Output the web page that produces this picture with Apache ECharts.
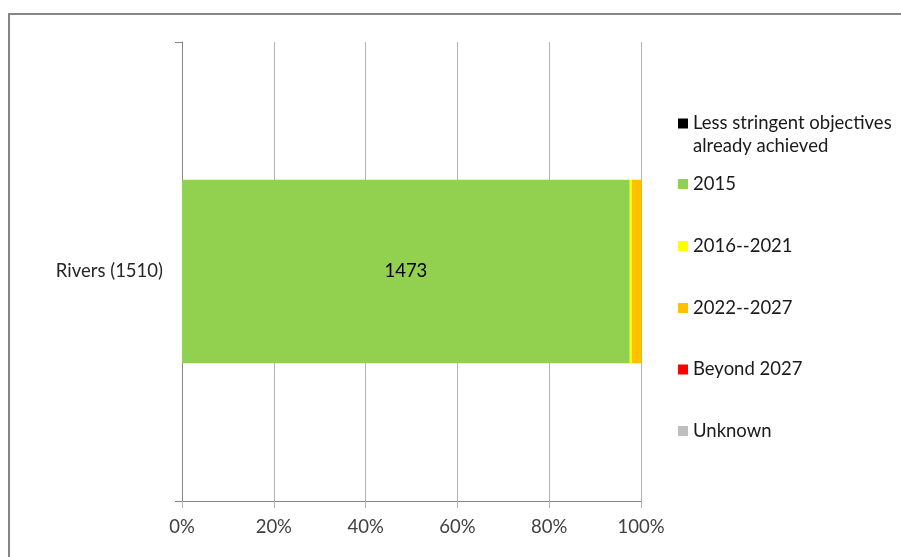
<!DOCTYPE html>
<html>
<head>
<meta charset="utf-8">
<script src="https://cdn.jsdelivr.net/npm/echarts@6/dist/echarts.min.js"></script>
<style>
  html, body { margin: 0; padding: 0; background: #fff; }
  #chart { width: 901px; height: 557px; }
</style>
</head>
<body>
<div id="chart"></div>
<script>
// Water bodies by year the objective is expected to be reached
const categories = ['Rivers (1510)'];
const totals = [1510];
const seriesNames = ['Less stringent objectives already achieved', '2015', '2016--2021', '2022--2027', 'Beyond 2027', 'Unknown'];
const lessStringent = [0];
const y2015 = [1473];
const y2016to2021 = [7];
const y2022to2027 = [30];
const beyond2027 = [0];
const unknown = [0];
const xTicks = [0, 20, 40, 60, 80, 100];

const counts = [lessStringent, y2015, y2016to2021, y2022to2027, beyond2027, unknown];
const colors = ['#000000', '#92D050', '#FFFF00', '#FFC000', '#FF0000', '#BFBFBF'];
const legendCenters = [123.5, 184, 246, 308, 369.5, 431];

const FONT = 'Lato';
const FS = 18.5;
const chart = echarts.init(document.getElementById('chart'), null, { renderer: 'canvas' });

const series = seriesNames.map((name, i) => ({
  name: name,
  type: 'bar',
  stack: 'total',
  barWidth: '40%',
  itemStyle: { color: colors[i] },
  data: counts[i].map((v, j) => v / totals[j] * 100),
  label: {
    show: i === 1,
    position: 'inside',
    color: '#000',
    fontFamily: FONT,
    fontSize: FS,
    formatter: p => String(counts[i][p.dataIndex])
  }
}));

const legends = seriesNames.map((name, i) => {
  const twoLine = i === 0;
  const lineH = twoLine ? 23 : 22;
  const blockH = twoLine ? lineH * 3 : lineH;
  return {
    data: [name],
    orient: 'vertical',
    left: 678,
    top: legendCenters[i] - blockH / 2,
    padding: 0,
    itemWidth: 10,
    itemHeight: 10,
    icon: 'rect',
    selectedMode: false,
    textStyle: { fontFamily: FONT, fontSize: FS, color: '#1a1a1a', lineHeight: lineH },
    formatter: twoLine ? ' \nLess stringent objectives\nalready achieved' : '{name}'
  };
});

chart.setOption({
  backgroundColor: '#fff',
  animation: false,
  graphic: [{
    type: 'rect',
    shape: { x: 9, y: 14, width: 1200, height: 1200 },
    style: { fill: null, stroke: '#868686', lineWidth: 2 },
    silent: true
  }],
  grid: { left: 182, right: 260, top: 42, bottom: 56, containLabel: false },
  legend: legends,
  xAxis: {
    type: 'value',
    min: xTicks[0],
    max: xTicks[xTicks.length - 1],
    interval: xTicks[1] - xTicks[0],
    axisLine: { show: true, lineStyle: { color: '#868686', width: 1 } },
    axisTick: { show: true, length: 7, lineStyle: { color: '#b3b3b3' } },
    splitLine: { show: true, lineStyle: { color: '#b3b3b3', width: 1 } },
    axisLabel: { formatter: '{value}%', margin: 17, color: '#404040', fontFamily: FONT, fontSize: FS }
  },
  yAxis: {
    type: 'category',
    data: categories,
    axisLine: { show: true, lineStyle: { color: '#868686', width: 1 } },
    axisTick: { show: true, length: 7, lineStyle: { color: '#868686' } },
    axisLabel: { margin: 19, color: '#262626', fontFamily: FONT, fontSize: FS }
  },
  series: series
});
</script>
</body>
</html>
